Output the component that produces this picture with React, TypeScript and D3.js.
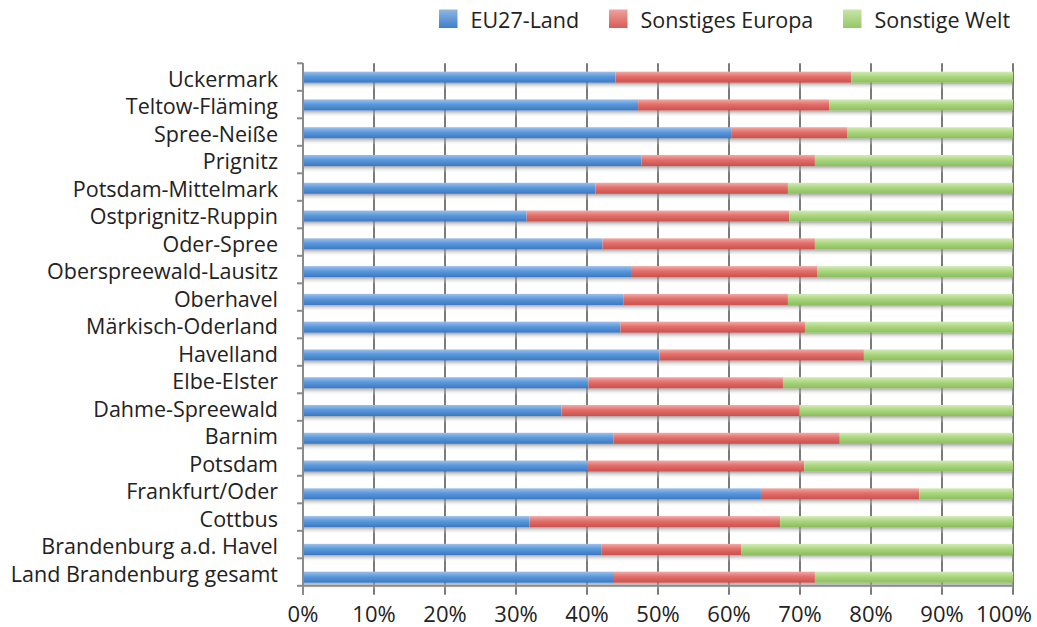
import React from "react";
import * as d3 from "d3";

const categories = [
  "Uckermark",
  "Teltow-Fläming",
  "Spree-Neiße",
  "Prignitz",
  "Potsdam-Mittelmark",
  "Ostprignitz-Ruppin",
  "Oder-Spree",
  "Oberspreewald-Lausitz",
  "Oberhavel",
  "Märkisch-Oderland",
  "Havelland",
  "Elbe-Elster",
  "Dahme-Spreewald",
  "Barnim",
  "Potsdam",
  "Frankfurt/Oder",
  "Cottbus",
  "Brandenburg a.d. Havel",
  "Land Brandenburg gesamt",
];

const eu27 = [44.0, 47.2, 60.4, 47.7, 41.2, 31.5, 42.2, 46.2, 45.1, 44.7, 50.2, 40.2, 36.4, 43.7, 40.0, 64.5, 31.9, 42.0, 43.8];
const europa = [33.2, 26.9, 16.3, 24.4, 27.1, 37.0, 29.9, 26.2, 23.2, 26.0, 28.8, 27.4, 33.5, 31.9, 30.6, 22.3, 35.3, 19.7, 28.3];
const welt = eu27.map((v, i) => +(100 - v - europa[i]).toFixed(1));

const seriesNames = ["EU27-Land", "Sonstiges Europa", "Sonstige Welt"];
const xTicks = [0, 10, 20, 30, 40, 50, 60, 70, 80, 90, 100];

const W = 1037;
const H = 627;
const FONT = "'Open Sans', sans-serif";
const TEXT = "#222222";

const colors = [
  { id: "gBlue", top: "#9cc0ea", mid: "#5a98dc", bot: "#3b78c2" },
  { id: "gRed", top: "#f3aaa6", mid: "#e36e6a", bot: "#c9504d" },
  { id: "gGreen", top: "#d3ebb6", mid: "#aad67e", bot: "#8cbd5c" },
];
const legendGrad = [
  { id: "lBlue", top: "#8fb6e4", bot: "#3f7fc9" },
  { id: "lRed", top: "#eea29c", bot: "#d85b57" },
  { id: "lGreen", top: "#c8e5a6", bot: "#95c768" },
];

export default function App() {
  const rows = categories.map((c, i) => ({
    cat: c,
    "EU27-Land": eu27[i],
    "Sonstiges Europa": europa[i],
    "Sonstige Welt": welt[i],
  }));
  const stack = d3.stack<any>().keys(seriesNames)(rows);

  const x = d3.scaleLinear().domain([0, 100]).range([303, 1013]);
  // bars
  const y = d3
    .scaleBand<string>()
    .domain(categories)
    .range([63.3, 591.1])
    .paddingInner(0.6)
    .paddingOuter(0.3);
  // axis / labels
  const yAxis = d3.scaleBand<string>().domain(categories).range([63.3, 585.8]);
  const bw = y.bandwidth();
  const [a0, a1] = yAxis.range();
  const boundaries = d3.range(categories.length + 1).map((i) => a0 + i * yAxis.step());

  return (
    <svg
      width={W}
      height={H}
      style={{ position: "absolute", left: 0, top: 0, background: "#fff" }}
    >
      <defs>
        {colors.map((c) => (
          <linearGradient key={c.id} id={c.id} x1="0" y1="0" x2="0" y2="1">
            <stop offset="0" stopColor={c.top} />
            <stop offset="0.45" stopColor={c.mid} />
            <stop offset="1" stopColor={c.bot} />
          </linearGradient>
        ))}
        {legendGrad.map((c) => (
          <linearGradient key={c.id} id={c.id} x1="0" y1="0" x2="0" y2="1">
            <stop offset="0" stopColor={c.top} />
            <stop offset="1" stopColor={c.bot} />
          </linearGradient>
        ))}
        <linearGradient id="gShadow" x1="0" y1="0" x2="0" y2="1">
          <stop offset="0" stopColor="#8a8a8a" stopOpacity={0.75} />
          <stop offset="1" stopColor="#ffffff" stopOpacity={0} />
        </linearGradient>
      </defs>

      {/* gridlines */}
      {xTicks.map((t) => (
        <line
          key={"g" + t}
          x1={x(t)}
          x2={x(t)}
          y1={a0}
          y2={a1 + 9}
          stroke="#7a7a7a"
          strokeWidth={2}
        />
      ))}

      {/* shadows */}
      {categories.map((c) => (
        <rect
          key={"s" + c}
          x={x(0)}
          width={x(100) - x(0)}
          y={(y(c) as number) + bw}
          height={7}
          fill="url(#gShadow)"
        />
      ))}

      {/* bars */}
      {stack.map((s, si) => (
        <g key={s.key} fill={`url(#${colors[si].id})`}>
          {s.map((d, i) => (
            <rect
              key={i}
              x={x(d[0])}
              width={Math.max(0, x(d[1]) - x(d[0]))}
              y={y(categories[i]) as number}
              height={bw}
            />
          ))}
        </g>
      ))}

      {/* axes */}
      <line x1={x(0)} x2={x(100)} y1={a1} y2={a1} stroke="#8a8a8a" strokeWidth={2} />
      <line x1={x(0)} x2={x(0)} y1={a0} y2={a1 + 9} stroke="#8a8a8a" strokeWidth={2} />
      {boundaries.map((b, i) => (
        <line key={"yt" + i} x1={x(0) - 6} x2={x(0)} y1={b} y2={b} stroke="#8a8a8a" strokeWidth={2} />
      ))}

      {/* category labels */}
      {categories.map((c) => (
        <text
          key={"l" + c}
          x={278}
          y={(yAxis(c) as number) + yAxis.bandwidth() / 2 + 9.5}
          textAnchor="end"
          fontFamily={FONT}
          fontSize={21.5}
          fill={TEXT}
        >
          {c}
        </text>
      ))}

      {/* x tick labels */}
      {xTicks.map((t, i) => {
        const last = i === xTicks.length - 1;
        return (
          <text
            key={"xt" + t}
            x={last ? W - 5 : x(t)}
            y={621.5}
            textAnchor={last ? "end" : "middle"}
            fontFamily={FONT}
            fontSize={22}
            fill={TEXT}
          >
            {t + "%"}
          </text>
        );
      })}

      {/* legend */}
      {seriesNames.map((n, i) => {
        const lx = [439, 609, 843][i];
        return (
          <g key={"lg" + n}>
            <rect x={lx} y={9.5} width={18.5} height={18.5} fill={`url(#${legendGrad[i].id})`} />
            <text x={lx + 31.5} y={27.7} fontFamily={FONT} fontSize={21.5} fill={TEXT}>
              {n}
            </text>
          </g>
        );
      })}
    </svg>
  );
}
